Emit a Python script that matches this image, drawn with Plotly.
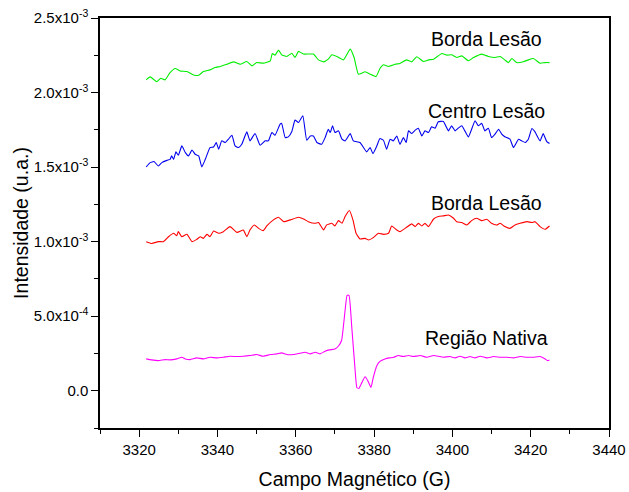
import plotly.graph_objects as go

# ---- data (field in G, intensity in a.u.) ----
green_x = [3321.8, 3322.8, 3324.5, 3325.5, 3326.6, 3327.9, 3329.2, 3330.5, 3332.2, 3333.9, 3335.2, 3336.4,
           3338.1, 3339.4, 3340.7, 3342.4, 3344.1, 3345.8, 3347.5, 3348.8, 3350.0, 3351.7, 3353.5, 3354.0,
           3354.7, 3355.6, 3356.4, 3357.7, 3359.0, 3359.8, 3360.7, 3362.0, 3364.5, 3365.8, 3367.1, 3368.3,
           3369.2, 3370.5, 3372.2, 3373.9, 3374.9, 3376.0, 3377.7, 3379.0, 3380.5, 3381.5, 3382.4, 3383.7,
           3385.4, 3386.6, 3388.3, 3389.6, 3390.9, 3392.6, 3393.9, 3395.2, 3397.3, 3398.6, 3399.8, 3401.1,
           3402.4, 3404.1, 3405.4, 3407.5, 3409.2, 3410.9, 3412.2, 3413.4, 3414.3, 3415.2, 3416.4, 3418.1,
           3419.4, 3420.7, 3422.4, 3423.7, 3424.8]
green_y = [2.085, 2.105, 2.073, 2.096, 2.085, 2.134, 2.161, 2.145, 2.141, 2.118, 2.116, 2.141,
           2.152, 2.168, 2.175, 2.190, 2.206, 2.190, 2.208, 2.179, 2.201, 2.197, 2.213, 2.262,
           2.251, 2.285, 2.253, 2.242, 2.264, 2.235, 2.276, 2.258, 2.258, 2.219, 2.206, 2.224,
           2.253, 2.242, 2.219, 2.291, 2.235, 2.123, 2.139, 2.123, 2.107, 2.161, 2.186, 2.175,
           2.190, 2.195, 2.219, 2.206, 2.240, 2.208, 2.219, 2.224, 2.262, 2.251, 2.253, 2.235,
           2.246, 2.213, 2.235, 2.258, 2.242, 2.235, 2.242, 2.219, 2.201, 2.228, 2.201, 2.206,
           2.219, 2.228, 2.197, 2.201, 2.201]

blue_x = [3321.8, 3322.8, 3323.8, 3324.9, 3325.8, 3327.1, 3327.9, 3328.3, 3328.8, 3329.4, 3330.0, 3330.9,
          3331.8, 3332.6, 3333.5, 3334.3, 3335.2, 3336.0, 3336.9, 3338.1, 3339.0, 3339.7, 3340.3, 3341.1,
          3342.0, 3342.8, 3343.7, 3344.5, 3345.4, 3346.2, 3347.5, 3348.3, 3349.6, 3350.9, 3352.2, 3353.0,
          3353.9, 3354.7, 3356.0, 3356.4, 3357.3, 3358.1, 3359.0, 3359.8, 3360.7, 3361.8, 3362.8, 3363.7,
          3364.5, 3365.4, 3366.6, 3367.5, 3368.3, 3368.8, 3369.4, 3370.0, 3370.9, 3371.8, 3372.6, 3373.9,
          3374.7, 3376.4, 3378.1, 3379.0, 3379.7, 3380.7, 3381.5, 3382.4, 3383.2, 3384.1, 3384.9, 3385.8,
          3386.6, 3387.5, 3388.2, 3388.8, 3389.6, 3390.5, 3391.3, 3392.2, 3393.0, 3393.9, 3394.7, 3395.6,
          3396.4, 3397.7, 3399.0, 3399.8, 3400.7, 3401.5, 3402.4, 3403.2, 3404.1, 3405.8, 3406.6, 3407.5,
          3408.3, 3409.2, 3410.0, 3410.9, 3411.8, 3412.6, 3413.4, 3414.7, 3415.6, 3416.9, 3417.7, 3418.6,
          3419.4, 3420.3, 3421.1, 3422.4, 3423.2, 3424.1, 3424.8]
blue_y = [1.501, 1.530, 1.537, 1.507, 1.530, 1.545, 1.552, 1.575, 1.552, 1.602, 1.579, 1.642,
          1.597, 1.575, 1.615, 1.586, 1.575, 1.501, 1.552, 1.631, 1.635, 1.665, 1.620, 1.676,
          1.665, 1.687, 1.714, 1.642, 1.631, 1.653, 1.736, 1.676, 1.725, 1.647, 1.676, 1.676,
          1.732, 1.714, 1.788, 1.793, 1.698, 1.703, 1.739, 1.815, 1.799, 1.844, 1.680, 1.709,
          1.709, 1.665, 1.653, 1.698, 1.754, 1.732, 1.777, 1.732, 1.743, 1.687, 1.676, 1.725,
          1.676, 1.665, 1.602, 1.631, 1.590, 1.642, 1.691, 1.680, 1.620, 1.687, 1.676, 1.709,
          1.653, 1.698, 1.665, 1.743, 1.725, 1.748, 1.761, 1.709, 1.743, 1.732, 1.770, 1.761,
          1.804, 1.806, 1.743, 1.777, 1.743, 1.761, 1.777, 1.743, 1.703, 1.811, 1.777, 1.793,
          1.743, 1.761, 1.698, 1.721, 1.754, 1.721, 1.703, 1.687, 1.631, 1.687, 1.676, 1.665,
          1.687, 1.759, 1.736, 1.676, 1.725, 1.671, 1.658]

red_x = [3321.8, 3323.2, 3324.9, 3326.2, 3327.5, 3328.8, 3329.6, 3330.0, 3330.9, 3332.2, 3333.5, 3334.7,
         3335.6, 3336.4, 3337.3, 3338.1, 3339.0, 3340.3, 3341.5, 3343.2, 3345.0, 3346.6, 3347.5, 3348.3,
         3349.4, 3350.5, 3351.7, 3352.6, 3354.3, 3355.6, 3356.9, 3358.6, 3360.7, 3362.0, 3363.2, 3364.9,
         3365.8, 3367.1, 3367.9, 3369.2, 3370.0, 3370.9, 3371.8, 3372.6, 3373.7, 3374.6, 3375.4, 3376.4,
         3377.7, 3378.6, 3379.8, 3381.1, 3382.4, 3383.7, 3384.5, 3385.8, 3386.6, 3388.3, 3389.6, 3390.5,
         3391.3, 3392.2, 3393.0, 3393.9, 3395.2, 3396.4, 3397.7, 3399.0, 3400.3, 3401.1, 3402.4, 3403.7,
         3404.9, 3406.2, 3407.5, 3408.8, 3410.0, 3411.3, 3412.2, 3413.4, 3414.7, 3416.0, 3417.3, 3419.0,
         3420.3, 3421.1, 3422.4, 3423.7, 3424.8]
red_y = [1.000, 0.988, 1.000, 1.000, 1.033, 1.056, 1.040, 1.067, 1.033, 1.049, 1.000, 1.015,
         1.033, 1.022, 1.049, 1.033, 1.071, 1.056, 1.067, 1.101, 1.062, 1.078, 1.033, 1.078,
         1.112, 1.089, 1.074, 1.105, 1.146, 1.164, 1.134, 1.146, 1.164, 1.152, 1.134, 1.123,
         1.128, 1.078, 1.112, 1.123, 1.105, 1.141, 1.123, 1.168, 1.209, 1.146, 1.056, 1.018,
         1.022, 1.011, 1.027, 1.056, 1.049, 1.056, 1.105, 1.078, 1.067, 1.096, 1.119, 1.101,
         1.123, 1.105, 1.123, 1.101, 1.152, 1.168, 1.173, 1.179, 1.157, 1.134, 1.128, 1.112,
         1.141, 1.157, 1.141, 1.150, 1.123, 1.112, 1.123, 1.101, 1.089, 1.112, 1.123, 1.134,
         1.128, 1.134, 1.101, 1.083, 1.105]

magenta_x = [3321.8, 3323.2, 3324.9, 3326.6, 3327.9, 3329.6, 3330.9, 3331.8, 3333.0, 3334.7, 3336.4, 3338.1,
             3339.8, 3341.5, 3343.2, 3345.0, 3346.6, 3348.3, 3350.0, 3351.7, 3353.5, 3355.2, 3356.4, 3357.7,
             3359.4, 3361.1, 3362.4, 3363.7, 3365.0, 3366.2, 3367.5, 3368.6, 3370.0, 3370.9, 3371.7, 3372.6,
             3373.1, 3373.6, 3374.3, 3375.1, 3375.6, 3376.1, 3376.9, 3377.7, 3378.4, 3379.2, 3379.8, 3380.7,
             3381.5, 3382.8, 3383.9, 3385.0, 3386.2, 3387.5, 3388.8, 3390.0, 3391.8, 3393.5, 3395.2, 3396.4,
             3397.7, 3399.4, 3400.7, 3402.0, 3403.2, 3404.5, 3405.8, 3407.1, 3408.8, 3410.5, 3412.2, 3413.9,
             3415.6, 3417.3, 3419.0, 3420.7, 3422.4, 3423.7, 3424.3, 3424.8]
magenta_y = [2.134, 2.067, 2.022, 2.089, 2.067, 2.134, 2.246, 2.134, 2.089, 2.201, 2.134, 2.246,
             2.201, 2.246, 2.314, 2.291, 2.314, 2.359, 2.426, 2.314, 2.426, 2.471, 2.538, 2.426,
             2.426, 2.516, 2.583, 2.471, 2.583, 2.471, 2.651, 2.740, 2.800, 3.000, 3.370, 5.400,
             6.400, 6.400, 4.270, 1.570, 0.220, 0.150, 0.560, 0.940, 0.670, 0.220, 0.900, 1.680,
             1.970, 2.130, 2.201, 2.246, 2.359, 2.291, 2.359, 2.291, 2.359, 2.246, 2.359, 2.314,
             2.246, 2.291, 2.201, 2.314, 2.201, 2.291, 2.201, 2.314, 2.201, 2.291, 2.246, 2.246,
             2.201, 2.291, 2.246, 2.246, 2.291, 2.134, 2.022, 2.067]

labels = ["Borda Lesão", "Centro Lesão", "Borda Lesão", "Região Nativa"]
label_x = [3408.8, 3408.8, 3408.8, 3408.8]
label_y = [2.36e-3, 1.875e-3, 1.26e-3, 0.357e-3]

ytick_vals = [0.0, 0.5e-3, 1.0e-3, 1.5e-3, 2.0e-3, 2.5e-3]
ytick_text = ["0.0", "5.0x10<sup>-4</sup>", "1.0x10<sup>-3</sup>", "1.5x10<sup>-3</sup>",
              "2.0x10<sup>-3</sup>", "2.5x10<sup>-3</sup>"]
xtick_vals = [3320, 3340, 3360, 3380, 3400, 3420, 3440]

FONT = "Liberation Sans, Arial, sans-serif"

fig = go.Figure()
series = [
    (green_x, [v * 1e-3 for v in green_y], "#00ee00"),
    (blue_x, [v * 1e-3 for v in blue_y], "#0000ee"),
    (red_x, [v * 1e-3 for v in red_y], "#ff0000"),
    (magenta_x, [v * 1e-4 for v in magenta_y], "#ff00ff"),
]
for xs, ys, c in series:
    fig.add_trace(go.Scatter(x=xs, y=ys, mode="lines", line=dict(color=c, width=1.1, shape="spline", smoothing=0.4),
                             showlegend=False, hoverinfo="skip"))

for t, xv, yv in zip(labels, label_x, label_y):
    fig.add_annotation(x=xv, y=yv, text=t, showarrow=False, xref="x", yref="y",
                       font=dict(family=FONT, size=19.5, color="black"))

fig.update_layout(
    width=629, height=492,
    margin=dict(l=100, r=20, t=18, b=64),
    plot_bgcolor="white", paper_bgcolor="white",
    font=dict(family=FONT, color="black"),
)
fig.update_xaxes(
    range=[3310, 3440], tickvals=xtick_vals, ticks="outside", ticklen=7, tickwidth=1.3,
    tickcolor="black", showline=True, linecolor="black", linewidth=1.5, mirror=True,
    showgrid=False, zeroline=False, tickfont=dict(size=15), automargin=False,
    minor=dict(tickvals=[3310, 3330, 3350, 3370, 3390, 3410, 3430], ticks="outside", ticklen=4,
               tickwidth=1.3, tickcolor="black", showgrid=False),
    title=dict(text="Campo Magnético (G)", font=dict(size=19.5), standoff=16),
)
fig.update_yaxes(
    range=[-0.25e-3, 2.5e-3], tickvals=ytick_vals, ticktext=ytick_text, ticks="outside", ticklen=7,
    tickwidth=1.3, tickcolor="black", showline=True, linecolor="black", linewidth=1.5, mirror=True,
    showgrid=False, zeroline=False, tickfont=dict(size=15), automargin=False,
    minor=dict(tickvals=[-0.25e-3, 0.25e-3, 0.75e-3, 1.25e-3, 1.75e-3, 2.25e-3], ticks="outside", ticklen=4,
               tickwidth=1.3, tickcolor="black", showgrid=False),
    title=dict(text="Intensidade (u.a.)", font=dict(size=19.5), standoff=0),
)

fig.write_html("out.html")
